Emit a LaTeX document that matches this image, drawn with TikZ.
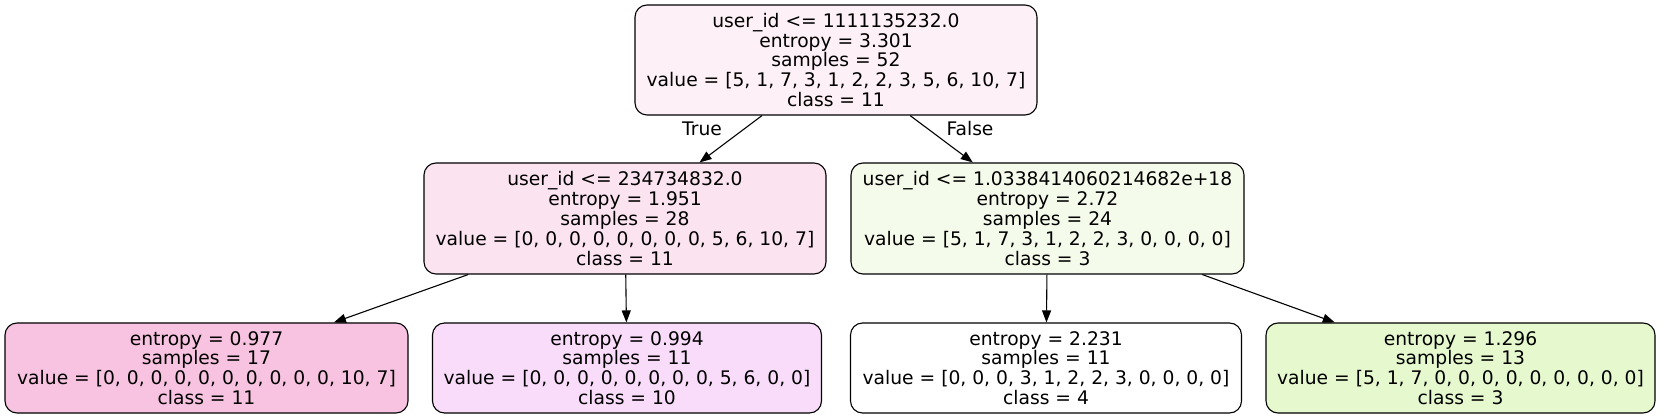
\documentclass[tikz,border=0pt]{standalone}
\usepackage{fontspec}
\setmainfont{DejaVu Sans}
\usetikzlibrary{arrows.meta}
\definecolor{rootfill}{RGB}{253,240,246}
\definecolor{leftfill}{RGB}{251,227,240}
\definecolor{rightfill}{RGB}{244,251,234}
\definecolor{leafa}{RGB}{247,195,224}
\definecolor{leafb}{RGB}{249,220,249}
\definecolor{leafd}{RGB}{229,248,206}
\begin{document}
\begin{tikzpicture}[x=1pt, y=-1pt,
    treenode/.style={draw, rectangle, rounded corners=12pt, line width=1.1pt, align=center,
        inner xsep=10pt, inner ysep=4pt, font=\fontsize{18.7}{19.8}\selectfont},
    treeedge/.style={-{Triangle[length=12pt,width=9pt]}, line width=1.1pt},
    edgelabel/.style={font=\fontsize{18.7}{19.8}\selectfont, inner sep=0pt}]
            \useasboundingbox (0,0) rectangle (1662,419);
            % Decision tree split on user_id
            \node[treenode, fill=rootfill, minimum width=402pt, minimum height=110pt] (root) at (836,60) {user\_id <= 1111135232.0\\entropy = 3.301\\samples = 52\\value = [5, 1, 7, 3, 1, 2, 2, 3, 5, 6, 10, 7]\\class = 11};
            \node[treenode, fill=leftfill, minimum width=402pt, minimum height=111pt] (left) at (625,218.5) {user\_id <= 234734832.0\\entropy = 1.951\\samples = 28\\value = [0, 0, 0, 0, 0, 0, 0, 0, 5, 6, 10, 7]\\class = 11};
            \node[treenode, fill=rightfill, minimum width=393pt, minimum height=111pt] (right) at (1047.5,218.5) {user\_id <= 1.0338414060214682e+18\\entropy = 2.72\\samples = 24\\value = [5, 1, 7, 3, 1, 2, 2, 3, 0, 0, 0, 0]\\class = 3};
            \node[treenode, fill=leafa, minimum width=403pt, minimum height=90pt] (leafA) at (206.5,368) {entropy = 0.977\\samples = 17\\value = [0, 0, 0, 0, 0, 0, 0, 0, 0, 0, 10, 7]\\class = 11};
            \node[treenode, fill=leafb, minimum width=389pt, minimum height=90pt] (leafB) at (627,368) {entropy = 0.994\\samples = 11\\value = [0, 0, 0, 0, 0, 0, 0, 0, 5, 6, 0, 0]\\class = 10};
            \node[treenode, fill=white, minimum width=391pt, minimum height=90pt] (leafC) at (1046,368) {entropy = 2.231\\samples = 11\\value = [0, 0, 0, 3, 1, 2, 2, 3, 0, 0, 0, 0]\\class = 4};
            \node[treenode, fill=leafd, minimum width=389pt, minimum height=90pt] (leafD) at (1460.5,368) {entropy = 1.296\\samples = 13\\value = [5, 1, 7, 0, 0, 0, 0, 0, 0, 0, 0, 0]\\class = 3};

            \node[edgelabel] (lbltrue) at (702,129) {True};
            \node[edgelabel] (lblfalse) at (970,129) {False};

            \draw[treeedge] (root) -- (left);
            \draw[treeedge] (root) -- (right);
            \draw[treeedge] (left) -- (leafA);
            \draw[treeedge] (left) -- (leafB);
            \draw[treeedge] (right) -- (leafC);
            \draw[treeedge] (right) -- (leafD);
        \end{tikzpicture}
\end{document}
